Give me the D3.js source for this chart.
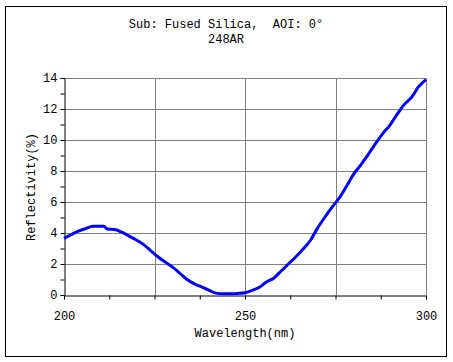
<!DOCTYPE html>
<html>
<head>
<meta charset="utf-8">
<script src="https://cdn.jsdelivr.net/npm/d3@7"></script>
<style>
html,body{margin:0;padding:0;background:#fff;}
text{font-family:"Liberation Mono","DejaVu Sans Mono",monospace;font-size:12px;fill:#000;white-space:pre;}
</style>
</head>
<body>
<svg id="chart" width="453" height="362"></svg>
<script>
const titleLines = ["Sub: Fused Silica,  AOI: 0°", "248AR"];
const xLabel = "Wavelength(nm)";
const yLabel = "Reflectivity(%)";
const xTicks = [200, 250, 300];
const xGrid = [225, 250, 275, 300];
const xMinor = [200, 212.5, 225, 237.5, 250, 262.5, 275, 287.5, 300];
const yTicks = [0, 2, 4, 6, 8, 10, 12, 14];
const yMinor = [1, 3, 5, 7, 9, 11, 13];

const wavelength = [200,202,204,206,208,210,211,212,214,216,218,220,222,224,226,228,230,232,234,236,238,240,242,244,246,248,250,252,254,256,258,260,262,264,266,268,270,272,274,276,278,280,282,284,286,288,290,292,294,296,298,300];
const reflectivity = [3.65,3.9,4.12,4.28,4.43,4.43,4.43,4.26,4.22,4.05,3.8,3.55,3.25,2.85,2.45,2.12,1.8,1.4,1.0,0.72,0.52,0.32,0.12,0.08,0.08,0.1,0.15,0.3,0.5,0.85,1.1,1.55,2.0,2.45,2.95,3.5,4.3,5.0,5.65,6.25,7.0,7.8,8.4,9.05,9.75,10.4,10.95,11.65,12.3,12.75,13.45,13.9];

const svg = d3.select("#chart");
const L = 64, R = 426, T = 78, B = 295;
const x = d3.scaleLinear().domain([200, 300]).range([L, R]);
const y = d3.scaleLinear().domain([0, 14]).range([B, T]);

// outer border
svg.append("rect").attr("x", 5.5).attr("y", 6.5).attr("width", 441).attr("height", 350)
  .attr("fill", "none").attr("stroke", "#000").attr("stroke-width", 1);

// title
svg.selectAll(".title").data(titleLines).enter().append("text")
  .attr("x", 226).attr("y", (d, i) => 28 + i * 15)
  .attr("text-anchor", "middle").attr("xml:space", "preserve").text(d => d);

// grid
const g = svg.append("g");
g.selectAll(".hg").data(yTicks.filter(d => d > 0)).enter().append("line")
  .attr("x1", L).attr("x2", R).attr("y1", d => Math.round(y(d)) + 0.5).attr("y2", d => Math.round(y(d)) + 0.5)
  .attr("stroke", "#808080").attr("stroke-width", 1);
g.selectAll(".vg").data(xGrid).enter().append("line")
  .attr("y1", T).attr("y2", B).attr("x1", d => Math.round(x(d)) + 0.5).attr("x2", d => Math.round(x(d)) + 0.5)
  .attr("stroke", "#808080").attr("stroke-width", 1);

// axes
const xAxis = d3.axisBottom(x).tickValues(xMinor).tickSize(4).tickFormat(d => xTicks.includes(d) ? d : "");
const gx = svg.append("g").attr("transform", `translate(0,${B + 0.5})`).call(xAxis);
gx.select(".domain").attr("stroke", "#000");
gx.selectAll("text").attr("dy", null).attr("y", 24).style("font-size", "12px").style("font-family", '"Liberation Mono","DejaVu Sans Mono",monospace');

const yAxis = d3.axisLeft(y).tickValues(yTicks.concat(yMinor)).tickSize(4).tickFormat(d => yTicks.includes(d) ? d : "");
const gy = svg.append("g").attr("transform", `translate(${L + 0.5},0)`).call(yAxis);
gy.select(".domain").attr("stroke", "#000");
gy.selectAll("text").attr("x", -7).style("font-size", "12px").style("font-family", '"Liberation Mono","DejaVu Sans Mono",monospace');

// labels
svg.append("text").attr("x", 245).attr("y", 337).attr("text-anchor", "middle").text(xLabel);
svg.append("text").attr("transform", "translate(35,187) rotate(-90)").attr("text-anchor", "middle").text(yLabel);

// line
const data = wavelength.map((w, i) => [w, reflectivity[i]]);
svg.append("path").datum(data)
  .attr("fill", "none").attr("stroke", "#0000ff").attr("stroke-width", 3)
  .attr("stroke-linejoin", "round")
  .attr("d", d3.line().x(d => x(d[0])).y(d => y(d[1])).curve(d3.curveMonotoneX));
</script>
</body>
</html>
